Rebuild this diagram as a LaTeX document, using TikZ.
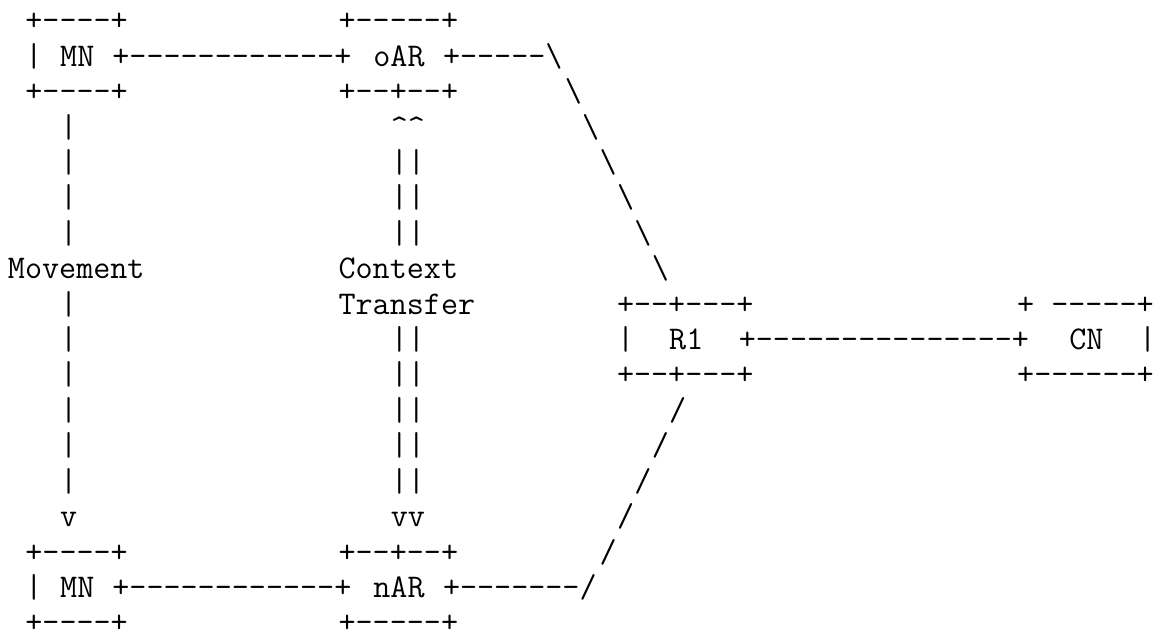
\documentclass[tikz,border=0pt]{standalone}
\usepackage{fontspec}
\begin{document}
\begin{tikzpicture}[x=8.7pt,y=-17.7pt,
  t/.style={anchor=base west,inner sep=0pt,outer sep=0pt,
    font=\ttfamily\fontsize{16.57pt}{17.7pt}\selectfont}]
\useasboundingbox (-4pt,15.5pt) rectangle (576pt,-304.5pt);
% line 1
\node[t] (mn1top) at (1,0) {+----+};
\node[t] (oartop) at (19,0) {+-----+};
% line 2
\node[t] (mn1l) at (1,1) {|};
\node[t] (mn1) at (3,1) {MN};
\node[t] (mnoar) at (6,1) {+------------+};
\node[t] (oar) at (21,1) {oAR};
\node[t] (oarr) at (25,1) {+-----\textbackslash};
% line 3
\node[t] (mn1bot) at (1,2) {+----+};
\node[t] (oarbot) at (19,2) {+--+--+};
\node[t] (d1) at (32,2) {\textbackslash};
% lines 4-7
\node[t] (v1) at (3,3) {|};
\node[t] (up) at (22,3) {\textasciicircum\textasciicircum};
\node[t] (d2) at (33,3) {\textbackslash};
\node[t] (v2) at (3,4) {|};
\node[t] (c1) at (22,4) {||};
\node[t] (d3) at (34,4) {\textbackslash};
\node[t] (v3) at (3,5) {|};
\node[t] (c2) at (22,5) {||};
\node[t] (d4) at (35,5) {\textbackslash};
\node[t] (v4) at (3,6) {|};
\node[t] (c3) at (22,6) {||};
\node[t] (d5) at (36,6) {\textbackslash};
% line 8
\node[t] (mov) at (0,7) {Movement};
\node[t] (ctx) at (19,7) {Context};
\node[t] (d6) at (37,7) {\textbackslash};
% line 9
\node[t] (v5) at (3,8) {|};
\node[t] (trf) at (19,8) {Transfer};
\node[t] (r1top) at (35,8) {+--+---+};
\node[t] (cntop) at (58,8) {+ -----+};
% line 10
\node[t] (v6) at (3,9) {|};
\node[t] (c4) at (22,9) {||};
\node[t] (r1l) at (35,9) {|};
\node[t] (r1) at (38,9) {R1};
\node[t] (r1cn) at (42,9) {+---------------+};
\node[t] (cn) at (61,9) {CN};
\node[t] (cnr) at (65,9) {|};
% line 11
\node[t] (v7) at (3,10) {|};
\node[t] (c5) at (22,10) {||};
\node[t] (r1bot) at (35,10) {+--+---+};
\node[t] (cnbot) at (58,10) {+------+};
% lines 12-14
\node[t] (v8) at (3,11) {|};
\node[t] (c6) at (22,11) {||};
\node[t] (s1) at (38,11) {/};
\node[t] (v9) at (3,12) {|};
\node[t] (c7) at (22,12) {||};
\node[t] (s2) at (37,12) {/};
\node[t] (v10) at (3,13) {|};
\node[t] (c8) at (22,13) {||};
\node[t] (s3) at (36,13) {/};
% line 15
\node[t] (arr) at (3,14) {v};
\node[t] (dn) at (22,14) {vv};
\node[t] (s4) at (35,14) {/};
% line 16
\node[t] (mn2top) at (1,15) {+----+};
\node[t] (nartop) at (19,15) {+--+--+};
\node[t] (s5) at (34,15) {/};
% line 17
\node[t] (mn2l) at (1,16) {|};
\node[t] (mn2) at (3,16) {MN};
\node[t] (mnnar) at (6,16) {+------------+};
\node[t] (nar) at (21,16) {nAR};
\node[t] (narr) at (25,16) {+-------/};
% line 18
\node[t] (mn2bot) at (1,17) {+----+};
\node[t] (narbot) at (19,17) {+-----+};
\end{tikzpicture}
\end{document}
